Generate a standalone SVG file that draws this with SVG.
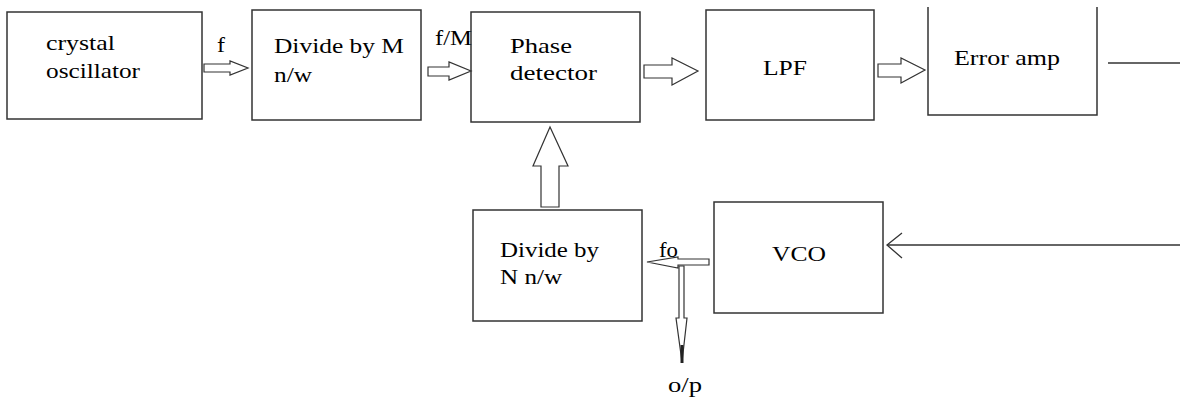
<svg xmlns="http://www.w3.org/2000/svg" width="1180" height="401" viewBox="0 0 1180 401" font-family="'Liberation Serif', 'Times New Roman', serif" font-size="22">
<style>
.box{fill:#fff;stroke:#333;stroke-width:1.5}
.blk{fill:#fff;stroke:#333;stroke-width:1.2;stroke-linejoin:miter}
.ln{fill:none;stroke:#333;stroke-width:1.3}
text{font-family:'Liberation Serif','Times New Roman',serif;font-size:22px;fill:#000}
</style>
<rect width="1180" height="401" fill="#fff"/>
<g id="crystal">
<rect class="box" x="7" y="12" width="195" height="107"/>
<text x="46" y="50" textLength="69" lengthAdjust="spacingAndGlyphs">crystal</text>
<text x="46" y="78" textLength="94" lengthAdjust="spacingAndGlyphs">oscillator</text>
</g>
<g id="divM">
<rect class="box" x="252" y="10" width="169" height="110"/>
<text x="274" y="53" textLength="130" lengthAdjust="spacingAndGlyphs">Divide by M</text>
<text x="274" y="82" textLength="38" lengthAdjust="spacingAndGlyphs">n/w</text>
</g>
<g id="phase">
<rect class="box" x="471" y="12" width="169" height="110"/>
<text x="510" y="53" textLength="62" lengthAdjust="spacingAndGlyphs">Phase</text>
<text x="510" y="80" textLength="87" lengthAdjust="spacingAndGlyphs">detector</text>
</g>
<g id="lpf">
<rect class="box" x="706" y="10" width="168" height="110"/>
<text x="763" y="75" textLength="44" lengthAdjust="spacingAndGlyphs">LPF</text>
</g>
<g id="erroramp">
<path class="box" d="M928,7 V115 H1097 V7"/>
<text x="954" y="65" textLength="106" lengthAdjust="spacingAndGlyphs">Error amp</text>
</g>
<g id="divN">
<rect class="box" x="473" y="210" width="169" height="111"/>
<text x="500" y="257" textLength="99" lengthAdjust="spacingAndGlyphs">Divide by</text>
<text x="500" y="284" textLength="62" lengthAdjust="spacingAndGlyphs">N n/w</text>
</g>
<g id="vco">
<rect class="box" x="714" y="202" width="169" height="111"/>
<text x="772" y="261" textLength="54" lengthAdjust="spacingAndGlyphs">VCO</text>
</g>
<g id="connectors">
<polygon class="blk" points="204,64 230,64 230,61 248,68 230,75 230,72 204,72"/>
<polygon class="blk" points="428,67 449,67 449,62 471,71 449,80 449,76 428,76"/>
<polygon class="blk" points="644,65 672,65 672,58 698,71 672,85 672,78 644,78"/>
<polygon class="blk" points="878,64 901,64 901,58 925,70 901,83 901,77 878,77"/>
<polygon class="blk" points="541,207 541,166 533,166 550,127 568,166 559,166 559,207"/>
<polygon class="blk" points="709,259 709,265 678,265 678,268 647,262 678,257 678,259"/>
<polygon class="blk" points="679,266 684,266 684,318 687,318 682,362 676,318 679,318"/>
<line x1="682" y1="345" x2="682" y2="363" stroke="#222" stroke-width="3"/>
<line class="ln" x1="1108" y1="63" x2="1180" y2="63"/>
<line class="ln" x1="1180" y1="245" x2="887" y2="245"/>
<polyline class="ln" points="902,233 887,245 902,258"/>
<text x="217" y="52" textLength="8" lengthAdjust="spacingAndGlyphs">f</text>
<text x="435" y="45" textLength="37" lengthAdjust="spacingAndGlyphs">f/M</text>
<text x="659" y="257" textLength="19" lengthAdjust="spacingAndGlyphs">fo</text>
<text x="668" y="392" textLength="34" lengthAdjust="spacingAndGlyphs">o/p</text>
</g>
</svg>
